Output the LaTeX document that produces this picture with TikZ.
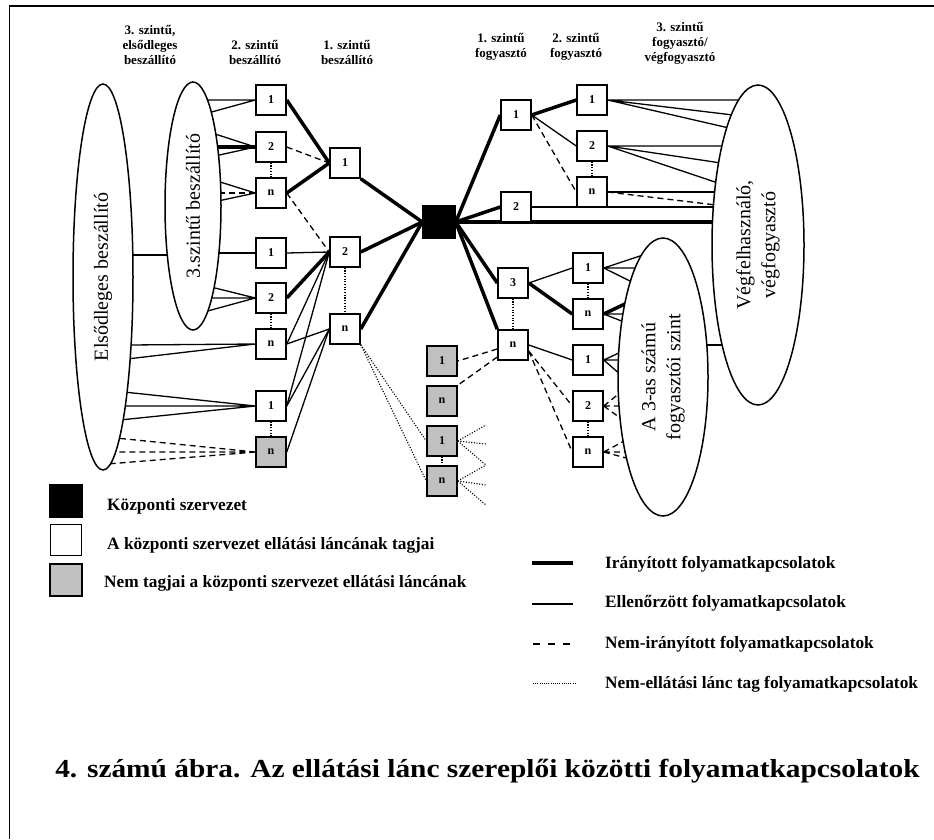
\documentclass[tikz,border=0pt]{standalone}
\usepackage{fontspec}
\setmainfont{Liberation Serif}
\usepackage{graphicx}
\usetikzlibrary{shapes.geometric,calc}
\pgfdeclarelayer{bg}
\pgfsetlayers{bg,main}
\definecolor{lightgrey}{RGB}{192,192,192}
\begin{document}
\begin{tikzpicture}[x=1pt,y=-1pt,
 box/.style={draw,line width=1.5pt,fill=white,minimum size=30pt,inner sep=0pt,font=\fontsize{12}{12}\selectfont\bfseries},
 gbox/.style={box,fill=lightgrey},
 ell/.style={draw,ellipse,line width=1.5pt,fill=white,inner sep=0pt,rotate=90,font=\fontsize{20}{25}\selectfont,align=center},
 dirl/.style={line width=3.5pt},
 ctll/.style={line width=1.3pt},
 undl/.style={line width=1.3pt,dash pattern=on 6pt off 4pt},
 nonl/.style={line width=1.1pt,dash pattern=on 1.1pt off 1.6pt},
 hdr/.style={font=\fontsize{13}{13}\selectfont\bfseries,anchor=base,inner sep=0pt},
 leg/.style={font=\fontsize{17.3}{17.3}\selectfont\bfseries,anchor=base west,inner sep=0pt},
]
\useasboundingbox (0,0) rectangle (934,839);
\draw[line width=1.5pt] (9.5,839) -- (9.5,6) -- (934,6);

% headers
\node[hdr] (h1a) at (150,34) {3. szintű,};
\node[hdr] (h1b) at (150,49) {elsődleges};
\node[hdr] (h1c) at (150,64) {beszállító};
\node[hdr] (h2a) at (255,49) {2. szintű};
\node[hdr] (h2b) at (255,64) {beszállító};
\node[hdr] (h3a) at (347,49) {1. szintű};
\node[hdr] (h3b) at (347,64) {beszállító};
\node[hdr] (h4a) at (501,42) {1. szintű};
\node[hdr] (h4b) at (501,57) {fogyasztó};
\node[hdr] (h5a) at (576,42) {2. szintű};
\node[hdr] (h5b) at (576,57) {fogyasztó};
\node[hdr] (h6a) at (680,31) {3. szintű};
\node[hdr] (h6b) at (680,46) {fogyasztó/};
\node[hdr] (h6c) at (680,61) {végfogyasztó};

% ellipses
\node[ell,minimum width=386pt,minimum height=60pt] (E1) at (103,277) {Elsődleges beszállító};
\node[ell,minimum width=248pt,minimum height=56pt] (E2) at (193,206) {3.szintű beszállító};
\node[ell,minimum width=320pt,minimum height=92pt] (ER) at (758,245) {Végfelhasználó,\\végfogyasztó};
\node[ell,minimum width=278pt,minimum height=90pt] (ES) at (663,377) {A 3-as számú\\fogyasztói szint};

% boxes
\node[box] (L2a1) at (271,100) {1};
\node[box] (L2a2) at (271,147) {2};
\node[box] (L2an) at (271,193) {n};
\node[box] (L2b1) at (271,253) {1};
\node[box] (L2b2) at (271,298) {2};
\node[box] (L2bn) at (271,344) {n};
\node[box] (L2c1) at (271,406) {1};
\node[gbox] (L2cn) at (271,452) {n};
\node[box] (L1a) at (345,163) {1};
\node[box] (L1b) at (345,252) {2};
\node[box] (L1n) at (345,329) {n};
\node[box,fill=black,minimum size=32pt] (C) at (439,222) {};
\node[box] (R1a) at (516,115) {1};
\node[box] (R1b) at (516,207) {2};
\node[box] (R1c) at (513,283) {3};
\node[box] (R1n) at (513,345) {n};
\node[box] (R2a1) at (592,100) {1};
\node[box] (R2a2) at (592,146) {2};
\node[box] (R2an) at (592,192) {n};
\node[box] (R2b1) at (588,268) {1};
\node[box] (R2bn) at (588,314) {n};
\node[box] (R2c1) at (588,360) {1};
\node[box] (R2c2) at (588,406) {2};
\node[box] (R2cn) at (588,452) {n};
\node[gbox] (G1) at (442,361) {1};
\node[gbox] (G2) at (442,401) {n};
\node[gbox] (G3) at (442,441) {1};
\node[gbox] (G4) at (442,481) {n};

% attachment points on ellipses (ends hidden under ellipse fill)
\coordinate (p1) at (204,100); \coordinate (p2) at (208,113);
\coordinate (p3) at (212,133); \coordinate (p4) at (214,147); \coordinate (p5) at (215,156);
\coordinate (p6) at (217,181); \coordinate (p7) at (217,193); \coordinate (p8) at (218,201);
\coordinate (p9) at (215,253);
\coordinate (p10) at (211,287); \coordinate (p11) at (208,298); \coordinate (p12) at (204,312);
\coordinate (q1) at (128,345); \coordinate (q2) at (127,359);
\coordinate (q3) at (124,392); \coordinate (q4) at (122,406); \coordinate (q5) at (120,420);
\coordinate (q6) at (116,438); \coordinate (q7) at (112,452); \coordinate (q8) at (107,464);
\coordinate (q9) at (130,255); \coordinate (q10) at (170,255);
\coordinate (r1) at (741,100); \coordinate (r2) at (733,115); \coordinate (r3) at (729,128);
\coordinate (r4) at (724,146); \coordinate (r5) at (721,163); \coordinate (r6) at (718,183);
\coordinate (r7) at (717,192); \coordinate (r8) at (716,205); \coordinate (r9) at (716,207);
\coordinate (r10) at (715,222);
\coordinate (s1) at (643,255); \coordinate (s2) at (637,268); \coordinate (s3) at (632,282);
\coordinate (s4) at (627,303); \coordinate (s5) at (625,314); \coordinate (s6) at (624,322);
\coordinate (s7) at (621,352); \coordinate (s8) at (621,360); \coordinate (s9) at (621,375);
\coordinate (s10) at (621,392); \coordinate (s11) at (622,406); \coordinate (s12) at (623,420);
\coordinate (s13) at (626,440); \coordinate (s14) at (628,452); \coordinate (s15) at (630,459);
\coordinate (s16) at (704,345); \coordinate (s17) at (726,345);
\coordinate (g1) at (486,425); \coordinate (g2) at (486,444); \coordinate (g3) at (486,465);
\coordinate (g4) at (486,485); \coordinate (g5) at (486,505);

\begin{pgfonlayer}{bg}
% left ellipses to 2nd level suppliers
\draw[ctll] (L2a1.west) -- (p1) (L2a1.west) -- (p2);
\draw[ctll] (L2a2.west) -- (p3) (L2a2.west) -- (p5);
\draw[dirl] (L2a2.west) -- (p4);
\draw[ctll] (L2an.west) -- (p6) (L2an.west) -- (p8);
\draw[undl] (L2an.west) -- (p7);
\draw[ctll] (L2b1.west) -- (p9);
\draw[ctll] (L2b2.west) -- (p10) (L2b2.west) -- (p11) (L2b2.west) -- (p12);
\draw[ctll] (L2bn.west) -- (q1) (L2bn.west) -- (q2);
\draw[ctll] (L2c1.west) -- (q3) (L2c1.west) -- (q4) (L2c1.west) -- (q5);
\draw[undl] (L2cn.west) -- (q6) (L2cn.west) -- (q7) (L2cn.west) -- (q8);
\draw[ctll] (q9) -- (q10);
% 2nd level to 1st level suppliers
\draw[dirl] (L2a1.east) -- (L1a.west);
\draw[undl] (L2a2.east) -- (L1a.west);
\draw[dirl] (L2an.east) -- (L1a.west);
\draw[undl] (L2an.east) -- (L1b.west);
\draw[ctll] (L2b1.east) -- (L1b.west);
\draw[dirl] (L2b2.east) -- (L1b.west);
\draw[ctll] (L2bn.east) -- (L1b.west);
\draw[ctll] (L2c1.east) -- (L1b.west);
\draw[ctll] (L2bn.east) -- (L1n.west);
\draw[ctll] (L2c1.east) -- (L1n.west);
\draw[ctll] (L2cn.east) -- (L1n.west);
\draw[nonl] (L2a2.south) -- (L2an.north);
\draw[nonl] (L2b2.south) -- (L2bn.north);
\draw[nonl] (L2c1.south) -- (L2cn.north);
\draw[nonl] (L1b.south) -- (L1n.north);
% 1st level suppliers to centre
\draw[dirl] (L1a.south east) -- (C.west);
\draw[dirl] (L1b.east) -- (C.west);
\draw[dirl] (L1n.east) -- (C.west);
\draw[nonl] (L1n.south east) -- (G3.west);
\draw[nonl] (L1n.south east) -- (G4.west);
% centre to consumers
\draw[dirl] (C.east) -- (R1a.west);
\draw[dirl] (C.east) -- (R1b.west);
\draw[dirl] (C.east) -- (r10);
\draw[dirl] (C.east) -- (R1c.west);
\draw[dirl] (C.east) -- (R1n.north west);
\draw[ctll] (R1b.east) -- (r9);
\draw[dirl] (R1a.east) -- (R2a1.west);
\draw[ctll] (R1a.east) -- (R2a2.west);
\draw[undl] (R1a.east) -- (R2an.west);
\draw[nonl] (R2a2.south) -- (R2an.north);
\draw[ctll] (R2a1.east) -- (r1) (R2a1.east) -- (r2) (R2a1.east) -- (r3);
\draw[ctll] (R2a2.east) -- (r4) (R2a2.east) -- (r5) (R2a2.east) -- (r6);
\draw[ctll] (R2an.east) -- (r7);
\draw[undl] (R2an.east) -- (r8);
\draw[ctll] (R1c.east) -- (R2b1.west);
\draw[dirl] (R1c.east) -- (R2bn.west);
\draw[nonl] (R1c.south) -- (R1n.north);
\draw[nonl] (R2b1.south) -- (R2bn.north);
\draw[nonl] (R2c2.south) -- (R2cn.north);
\draw[ctll] (R2c1.west) -- (R1n.east);
\draw[undl] ([yshift=-6pt]R1n.east) -- (R2c2.west);
\draw[undl] ([yshift=-6pt]R1n.east) -- (R2cn.west);
\draw[undl] ([yshift=-4pt]R1n.west) -- (G1.east);
\draw[undl] ([yshift=-12pt]R1n.west) -- (G2.north east);
\draw[ctll] (R2b1.east) -- (s1) (R2b1.east) -- (s2) (R2b1.east) -- (s3);
\draw[dirl] (R2bn.east) -- (s4);
\draw[ctll] (R2bn.east) -- (s5) (R2bn.east) -- (s6);
\draw[ctll] (R2c1.east) -- (s7) (R2c1.east) -- (s8) (R2c1.east) -- (s9);
\draw[undl] (R2c2.east) -- (s10) (R2c2.east) -- (s11) (R2c2.east) -- (s12);
\draw[undl] (R2cn.east) -- (s13) (R2cn.east) -- (s14) (R2cn.east) -- (s15);
\draw[ctll] (s16) -- (s17);
% non-member links
\draw[nonl] (G3.south) -- (G4.north);
\draw[nonl] (G3.east) -- (g1) (G3.east) -- (g2) (G3.east) -- (g3);
\draw[nonl] (G4.east) -- (g3) (G4.east) -- (g4) (G4.east) -- (g5);
\end{pgfonlayer}

% legend
\node[box,fill=black,minimum size=32pt] (kb) at (66,501) {};
\node[box,minimum size=31pt] (tb) at (66,540) {};
\node[gbox,minimum size=32pt] (nb) at (66,580) {};
\node[leg] (kt) at (107,510) {Központi szervezet};
\node[leg] (tt) at (107,549) {A központi szervezet ellátási láncának tagjai};
\node[leg] (nt) at (104,587) {Nem tagjai a központi szervezet ellátási láncának};
\coordinate (la1) at (532,563); \coordinate (la2) at (573,563);
\coordinate (lb1) at (532,604); \coordinate (lb2) at (573,604);
\coordinate (lc1) at (533,644); \coordinate (lc2) at (575,644);
\coordinate (ld1) at (533,683); \coordinate (ld2) at (575,683);
\draw[dirl] (la1) -- (la2);
\draw[ctll] (lb1) -- (lb2);
\draw[undl,dash pattern=on 7pt off 8pt] (lc1) -- (lc2);
\draw[nonl,line width=0.8pt,dash pattern=on 0.8pt off 1.4pt] (ld1) -- (ld2);
\node[leg] (lat) at (605,568) {Irányított folyamatkapcsolatok};
\node[leg] (lbt) at (605,607) {Ellenőrzött folyamatkapcsolatok};
\node[leg] (lct) at (605,648) {Nem-irányított folyamatkapcsolatok};
\node[leg] (ldt) at (605,688) {Nem-ellátási lánc tag folyamatkapcsolatok};

% title
\node[font=\fontsize{26}{26}\selectfont\bfseries,anchor=base,inner sep=0pt] (title) at (487.5,777)
 {\scalebox{1.13}[1]{4. számú ábra. Az ellátási lánc szereplői közötti folyamatkapcsolatok}};
\end{tikzpicture}
\end{document}
